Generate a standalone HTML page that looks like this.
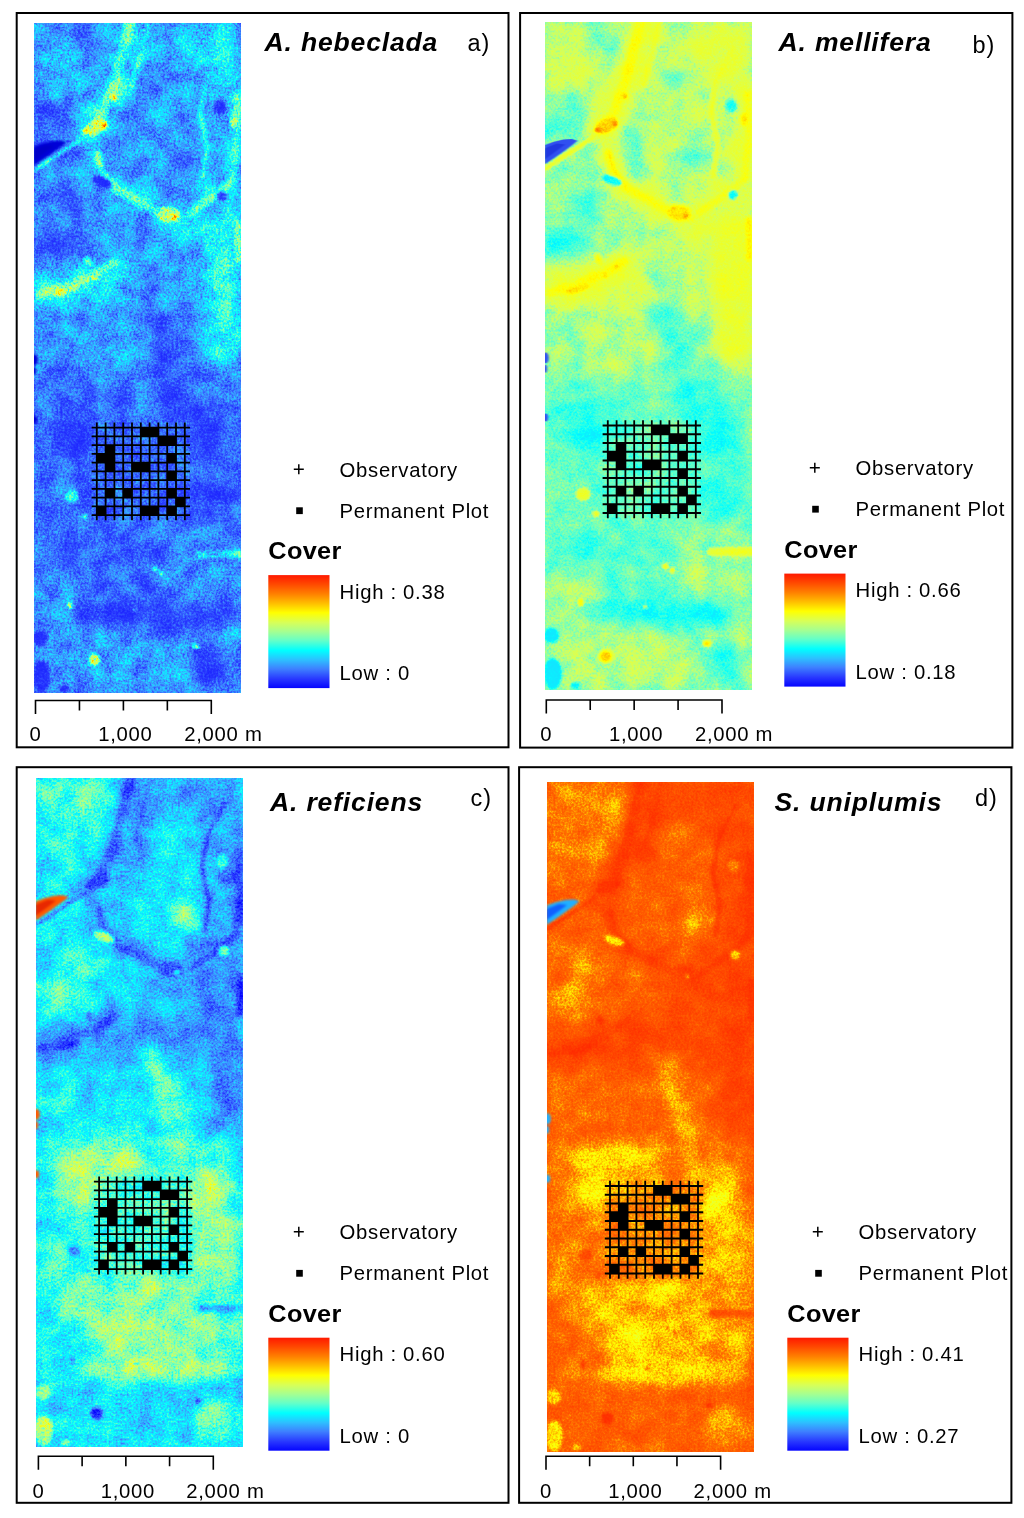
<!DOCTYPE html>
<html lang="en"><head><meta charset="utf-8"><title>Cover maps</title>
<style>
html,body{margin:0;padding:0;background:#fff}
svg{display:block}
.t{font-family:'Liberation Sans', sans-serif;font-size:20.3px;fill:#000;letter-spacing:0.7px}
.cv{font-family:'Liberation Sans', sans-serif;font-size:23px;font-weight:bold;fill:#000;letter-spacing:0.3px}
.ti{font-family:'Liberation Sans', sans-serif;font-size:26.5px;font-weight:bold;font-style:italic;fill:#000;letter-spacing:0.85px}
.tg{font-family:'Liberation Sans', sans-serif;font-size:23.5px;fill:#000;letter-spacing:1px}
</style></head><body>
<svg width="1024" height="1518" viewBox="0 0 1024 1518">
<defs>
<linearGradient id="ramp" x1="0" y1="0" x2="0" y2="1"><stop offset="0.000" stop-color="rgb(255,25,0)"/><stop offset="0.080" stop-color="rgb(255,72,0)"/><stop offset="0.170" stop-color="rgb(255,130,0)"/><stop offset="0.250" stop-color="rgb(255,190,0)"/><stop offset="0.333" stop-color="rgb(255,255,0)"/><stop offset="0.420" stop-color="rgb(215,255,88)"/><stop offset="0.500" stop-color="rgb(165,255,145)"/><stop offset="0.580" stop-color="rgb(100,255,200)"/><stop offset="0.667" stop-color="rgb(0,255,255)"/><stop offset="0.750" stop-color="rgb(45,192,255)"/><stop offset="0.830" stop-color="rgb(62,128,255)"/><stop offset="0.920" stop-color="rgb(40,55,255)"/><stop offset="1.000" stop-color="rgb(5,5,255)"/></linearGradient>
<filter id="blLo" x="-0.2" y="-0.1" width="1.4" height="1.2" color-interpolation-filters="sRGB"><feGaussianBlur stdDeviation="8"/></filter>
<filter id="blHi" x="-0.2" y="-0.1" width="1.4" height="1.2" color-interpolation-filters="sRGB"><feGaussianBlur stdDeviation="1.6"/></filter>
<filter id="blOv" x="-0.3" y="-0.3" width="1.6" height="1.6" color-interpolation-filters="sRGB"><feGaussianBlur stdDeviation="0.8"/></filter>
<g id="fAB"><rect x="-20" y="-20" width="246" height="710" fill="#292929"/><g filter="url(#blLo)"><rect x="-20" y="-20" width="246" height="710" fill="#292929"/><rect x="-0.4" y="-0.5" width="84.4" height="91.4" fill="#404040"/><ellipse cx="72.2" cy="32.3" rx="12.9" ry="21.1" fill="#1c1c1c"/><ellipse cx="51.1" cy="13.6" rx="11.7" ry="10.5" fill="#212121"/><ellipse cx="18.3" cy="12.4" rx="16.4" ry="11.7" fill="#333333"/><ellipse cx="62.8" cy="69.8" rx="11.7" ry="16.4" fill="#333333"/><rect x="-0.4" y="74.5" width="46.9" height="42.2" fill="#242424"/><rect x="98.0" y="-0.5" width="51.6" height="44.5" fill="#3b3b3b"/><rect x="149.5" y="-0.5" width="57.4" height="68.0" fill="#4c4c4c"/><rect x="98.0" y="39.4" width="68.0" height="133.6" fill="#383838"/><ellipse cx="147.2" cy="140.1" rx="14.1" ry="12.9" fill="#1c1c1c"/><ellipse cx="127.3" cy="58.1" rx="12.9" ry="12.9" fill="#262626"/><rect x="170.6" y="62.8" width="27.0" height="98.4" fill="#3b3b3b"/><rect x="-0.4" y="137.8" width="64.4" height="91.4" fill="#303030"/><ellipse cx="40.6" cy="184.7" rx="12.9" ry="11.7" fill="#121212"/><ellipse cx="20.7" cy="218.7" rx="15.2" ry="14.1" fill="#111111"/><rect x="64.0" y="168.3" width="62.1" height="60.9" fill="#333333"/><rect x="126.1" y="198.7" width="80.9" height="30.5" fill="#474747"/><rect x="149.5" y="156.5" width="57.4" height="44.5" fill="#474747"/><path d="M100.3 -2.8L92.1 27.7L81.6 62.8L67.5 93.3L55.8 108.5" fill="none" stroke="#595959" stroke-width="25.8" stroke-linecap="round" stroke-linejoin="round"/><path d="M62.8 130.8L68.7 151.9L85.1 169.4L107.4 181.2L128.5 191.7L147.2 196.4" fill="none" stroke="#545454" stroke-width="17.6" stroke-linecap="round" stroke-linejoin="round"/><path d="M202.3 69.8L203.5 156.5" fill="none" stroke="#5e5e5e" stroke-width="12.9" stroke-linecap="round" stroke-linejoin="round"/><path d="M202.3 191.7L203.5 229.2" fill="none" stroke="#757575" stroke-width="10.5" stroke-linecap="round" stroke-linejoin="round"/><rect x="-0.4" y="217.5" width="46.9" height="29.3" fill="#161616"/><rect x="-0.4" y="238.6" width="105.5" height="49.2" fill="#474747"/><rect x="102.7" y="217.5" width="68.0" height="70.3" fill="#383838"/><ellipse cx="116.7" cy="255.0" rx="10.5" ry="10.5" fill="#1f1f1f"/><path d="M191.7 306.6L189.4 386.2" fill="none" stroke="#383838" stroke-width="35.2" stroke-linecap="round" stroke-linejoin="round"/><path d="M190.6 208.1L190.6 315.9" fill="none" stroke="#545454" stroke-width="41.0" stroke-linecap="round" stroke-linejoin="round"/><ellipse cx="184.7" cy="260.9" rx="12.9" ry="12.9" fill="#6b6b6b"/><ellipse cx="187.5" cy="330.0" rx="5.9" ry="11.7" fill="#6b6b6b"/><rect x="-0.4" y="287.8" width="45.7" height="72.7" fill="#2f2f2f"/><rect x="44.1" y="294.8" width="65.6" height="68.0" fill="#363636"/><path d="M112.1 285.5L126.1 311.2L135.5 348.7L139.0 383.9" fill="none" stroke="#1a1a1a" stroke-width="16.4" stroke-linecap="round" stroke-linejoin="round"/><rect x="-0.4" y="358.1" width="207.4" height="96.1" fill="#212121"/><rect x="62.8" y="358.1" width="63.3" height="44.5" fill="#2b2b2b"/><ellipse cx="39.4" cy="412.0" rx="24.6" ry="22.3" fill="#131313"/><ellipse cx="62.8" cy="381.5" rx="44.5" ry="17.6" fill="#212121"/><ellipse cx="176.5" cy="412.0" rx="21.1" ry="18.7" fill="#121212"/><ellipse cx="141.3" cy="381.5" rx="14.1" ry="19.9" fill="#161616"/><rect x="117.9" y="358.1" width="17.6" height="44.5" fill="#242424"/><rect x="192.9" y="358.1" width="14.1" height="96.1" fill="#2b2b2b"/><rect x="-0.4" y="358.1" width="21.1" height="96.1" fill="#262626"/><rect x="58.2" y="400.3" width="96.1" height="53.9" fill="#242424"/><path d="M4.2 271.9L32.4 262.5L62.8 250.8L80.4 239.1" fill="none" stroke="#5e5e5e" stroke-width="18.7" stroke-linecap="round" stroke-linejoin="round"/><rect x="-0.4" y="437.5" width="57.4" height="63.3" fill="#262626"/><ellipse cx="16.0" cy="478.5" rx="12.9" ry="18.7" fill="#262626"/><rect x="58.2" y="437.5" width="96.1" height="58.6" fill="#242424"/><rect x="154.2" y="437.5" width="52.7" height="72.7" fill="#212121"/><ellipse cx="170.6" cy="478.5" rx="15.2" ry="18.7" fill="#171717"/><rect x="-0.4" y="497.3" width="207.4" height="21.1" fill="#262626"/><ellipse cx="40.6" cy="531.2" rx="16.4" ry="17.6" fill="#131313"/><ellipse cx="107.4" cy="545.3" rx="70.3" ry="39.8" fill="#212121"/><rect x="126.1" y="507.8" width="80.9" height="21.1" fill="#2e2e2e"/><rect x="126.1" y="535.9" width="80.9" height="43.4" fill="#333333"/><rect x="-0.4" y="547.6" width="52.7" height="59.8" fill="#303030"/><ellipse cx="123.8" cy="593.3" rx="77.3" ry="11.2" fill="#121212"/><ellipse cx="149.5" cy="593.3" rx="28.1" ry="8.9" fill="#0b0b0b"/><rect x="-0.4" y="606.2" width="207.4" height="64.4" fill="#333333"/><ellipse cx="86.3" cy="643.7" rx="65.6" ry="25.8" fill="#373737"/><path d="M130.8 612.1L207.0 612.1" fill="none" stroke="#2b2b2b" stroke-width="21.1" stroke-linecap="round" stroke-linejoin="round"/><ellipse cx="177.7" cy="643.7" rx="19.9" ry="19.9" fill="#161616"/><ellipse cx="199.9" cy="613.3" rx="7.0" ry="11.7" fill="#4c4c4c"/><ellipse cx="79.2" cy="552.3" rx="18.7" ry="9.4" fill="#262626" transform="rotate(10 79.2 552.3)"/><ellipse cx="114.4" cy="506.6" rx="16.4" ry="9.4" fill="#2b2b2b"/></g><g filter="url(#blHi)"><path d="M95.6 -1.6L88.6 27.7L79.2 62.8L68.0 92.1L57.0 107.8" fill="none" stroke="#6e6e6e" stroke-width="9.4" stroke-linecap="round" stroke-linejoin="round"/><path d="M113.2 1.9L107.4 30.0L98.0 62.8" fill="none" stroke="#5c5c5c" stroke-width="5.2" stroke-linecap="round" stroke-linejoin="round"/><ellipse cx="61.7" cy="103.8" rx="12.2" ry="7.0" fill="#949494" transform="rotate(-25 61.7 103.8)"/><ellipse cx="52.3" cy="108.5" rx="2.8" ry="2.1" fill="#ebebeb"/><ellipse cx="70.3" cy="102.6" rx="1.9" ry="3.0" fill="#e6e6e6"/><ellipse cx="80.4" cy="74.5" rx="1.6" ry="2.8" fill="#cccccc"/><path d="M48.8 115.5L25.3 130.8L0.0 147.2" fill="none" stroke="#6b6b6b" stroke-width="2.8" stroke-linecap="round" stroke-linejoin="round"/><path d="M62.8 131.9L68.0 151.9L84.4 168.7L107.4 180.5L127.3 191.7L146.0 196.9" fill="none" stroke="#696969" stroke-width="8.4" stroke-linecap="round" stroke-linejoin="round"/><path d="M64.0 129.6L67.5 147.2L79.2 161.2" fill="none" stroke="#878787" stroke-width="3.7" stroke-linecap="round" stroke-linejoin="round"/><ellipse cx="67.5" cy="158.9" rx="11.2" ry="4.7" fill="#0f0f0f" transform="rotate(20 67.5 158.9)"/><ellipse cx="134.3" cy="191.7" rx="11.7" ry="8.0" fill="#878787"/><ellipse cx="140.6" cy="194.5" rx="2.1" ry="2.6" fill="#d9d9d9"/><ellipse cx="128.5" cy="185.8" rx="2.1" ry="1.6" fill="#bfbfbf"/><path d="M188.2 25.3L171.1 58.1L166.0 90.9L173.0 123.7L168.3 154.2" fill="none" stroke="#575757" stroke-width="4.2" stroke-linecap="round" stroke-linejoin="round"/><path d="M202.3 72.2L203.9 114.4L199.9 156.5L184.7 170.6L154.2 191.7" fill="none" stroke="#666666" stroke-width="7.0" stroke-linecap="round" stroke-linejoin="round"/><ellipse cx="198.8" cy="98.0" rx="3.3" ry="6.6" fill="#8c8c8c"/><ellipse cx="185.9" cy="83.9" rx="6.1" ry="7.0" fill="#1a1a1a"/><ellipse cx="187.5" cy="173.0" rx="5.2" ry="5.2" fill="#0f0f0f"/><path d="M203.5 198.7L204.6 229.2" fill="none" stroke="#808080" stroke-width="6.6" stroke-linecap="round" stroke-linejoin="round"/><path d="M204.6 217.5L203.5 236.2" fill="none" stroke="#808080" stroke-width="6.6" stroke-linecap="round" stroke-linejoin="round"/><path d="M5.4 271.9L32.4 262.5L62.8 250.8L79.2 239.8" fill="none" stroke="#707070" stroke-width="8.4" stroke-linecap="round" stroke-linejoin="round"/><ellipse cx="60.5" cy="255.0" rx="2.1" ry="2.1" fill="#adadad"/><ellipse cx="71.0" cy="245.6" rx="1.6" ry="1.6" fill="#a8a8a8"/><ellipse cx="32.4" cy="267.9" rx="12.9" ry="3.7" fill="#8c8c8c" transform="rotate(-15 32.4 267.9)"/><ellipse cx="53.5" cy="238.6" rx="2.8" ry="5.2" fill="#7a7a7a" transform="rotate(-20 53.5 238.6)"/><ellipse cx="38.2" cy="473.8" rx="6.6" ry="6.1" fill="#5c5c5c"/><ellipse cx="51.1" cy="493.7" rx="1.9" ry="1.9" fill="#8c8c8c"/><path d="M166.0 531.7L207.0 531.7" fill="none" stroke="#595959" stroke-width="7.0" stroke-linecap="round" stroke-linejoin="round"/><ellipse cx="35.9" cy="582.8" rx="1.6" ry="3.7" fill="#a8a8a8"/><ellipse cx="60.5" cy="636.7" rx="6.1" ry="6.1" fill="#999999"/><ellipse cx="161.7" cy="623.8" rx="3.3" ry="1.9" fill="#b2b2b2"/><ellipse cx="120.3" cy="546.5" rx="1.6" ry="1.6" fill="#9e9e9e"/><ellipse cx="127.3" cy="550.5" rx="1.6" ry="1.6" fill="#9e9e9e"/><ellipse cx="100.3" cy="586.8" rx="1.6" ry="1.6" fill="#737373"/><ellipse cx="6.6" cy="615.6" rx="7.5" ry="7.5" fill="#080808"/><ellipse cx="7.8" cy="654.3" rx="8.4" ry="15.5" fill="#080808"/><ellipse cx="30.0" cy="666.0" rx="4.7" ry="3.3" fill="#0a0a0a"/></g></g>
<g id="fCD"><rect x="-20" y="-20" width="246" height="710" fill="#4c4c4c"/><g filter="url(#blLo)"><rect x="-20" y="-20" width="246" height="710" fill="#4c4c4c"/><rect x="-0.4" y="-0.5" width="84.4" height="91.4" fill="#5e5e5e"/><ellipse cx="72.2" cy="32.3" rx="12.9" ry="21.1" fill="#6e6e6e"/><ellipse cx="51.1" cy="13.6" rx="11.7" ry="10.5" fill="#6e6e6e"/><ellipse cx="18.3" cy="12.4" rx="16.4" ry="11.7" fill="#6e6e6e"/><ellipse cx="62.8" cy="69.8" rx="11.7" ry="16.4" fill="#6b6b6b"/><rect x="-0.4" y="74.5" width="46.9" height="42.2" fill="#545454"/><rect x="98.0" y="-0.5" width="51.6" height="44.5" fill="#383838"/><rect x="149.5" y="-0.5" width="57.4" height="68.0" fill="#363636"/><rect x="98.0" y="39.4" width="68.0" height="133.6" fill="#4c4c4c"/><ellipse cx="147.2" cy="140.1" rx="14.1" ry="12.9" fill="#808080"/><ellipse cx="127.3" cy="58.1" rx="12.9" ry="12.9" fill="#616161"/><rect x="170.6" y="62.8" width="27.0" height="98.4" fill="#383838"/><rect x="-0.4" y="137.8" width="64.4" height="91.4" fill="#525252"/><ellipse cx="40.6" cy="184.7" rx="12.9" ry="11.7" fill="#787878"/><ellipse cx="20.7" cy="218.7" rx="15.2" ry="14.1" fill="#7d7d7d"/><rect x="64.0" y="168.3" width="62.1" height="60.9" fill="#4c4c4c"/><rect x="126.1" y="198.7" width="80.9" height="30.5" fill="#333333"/><rect x="149.5" y="156.5" width="57.4" height="44.5" fill="#333333"/><path d="M100.3 -2.8L92.1 27.7L81.6 62.8L67.5 93.3L55.8 108.5" fill="none" stroke="#303030" stroke-width="25.8" stroke-linecap="round" stroke-linejoin="round"/><path d="M62.8 130.8L68.7 151.9L85.1 169.4L107.4 181.2L128.5 191.7L147.2 196.4" fill="none" stroke="#333333" stroke-width="17.6" stroke-linecap="round" stroke-linejoin="round"/><path d="M202.3 69.8L203.5 156.5" fill="none" stroke="#1f1f1f" stroke-width="12.9" stroke-linecap="round" stroke-linejoin="round"/><path d="M202.3 191.7L203.5 229.2" fill="none" stroke="#1a1a1a" stroke-width="10.5" stroke-linecap="round" stroke-linejoin="round"/><path d="M113.2 -0.5L107.4 39.4L96.8 81.6" fill="none" stroke="#303030" stroke-width="23.4" stroke-linecap="round" stroke-linejoin="round"/><rect x="-0.4" y="217.5" width="46.9" height="29.3" fill="#6e6e6e"/><rect x="-0.4" y="238.6" width="105.5" height="49.2" fill="#383838"/><rect x="102.7" y="217.5" width="68.0" height="70.3" fill="#3b3b3b"/><ellipse cx="116.7" cy="255.0" rx="10.5" ry="10.5" fill="#545454"/><path d="M191.7 306.6L189.4 386.2" fill="none" stroke="#383838" stroke-width="35.2" stroke-linecap="round" stroke-linejoin="round"/><path d="M190.6 208.1L190.6 315.9" fill="none" stroke="#2e2e2e" stroke-width="41.0" stroke-linecap="round" stroke-linejoin="round"/><ellipse cx="184.7" cy="260.9" rx="12.9" ry="12.9" fill="#1f1f1f"/><ellipse cx="187.5" cy="330.0" rx="5.9" ry="11.7" fill="#212121"/><rect x="-0.4" y="287.8" width="45.7" height="72.7" fill="#545454"/><rect x="44.1" y="294.8" width="65.6" height="68.0" fill="#4f4f4f"/><path d="M116.7 280.8L128.5 311.2L137.8 348.7L142.5 386.2" fill="none" stroke="#757575" stroke-width="22.3" stroke-linecap="round" stroke-linejoin="round"/><rect x="-0.4" y="358.1" width="207.4" height="96.1" fill="#5c5c5c"/><rect x="62.8" y="358.1" width="63.3" height="44.5" fill="#6b6b6b"/><ellipse cx="39.4" cy="412.0" rx="24.6" ry="22.3" fill="#808080"/><ellipse cx="62.8" cy="381.5" rx="44.5" ry="17.6" fill="#858585"/><ellipse cx="176.5" cy="421.4" rx="23.4" ry="28.1" fill="#8f8f8f"/><ellipse cx="141.3" cy="381.5" rx="14.1" ry="19.9" fill="#787878"/><rect x="117.9" y="358.1" width="17.6" height="44.5" fill="#4c4c4c"/><rect x="192.9" y="358.1" width="14.1" height="96.1" fill="#4c4c4c"/><rect x="-0.4" y="358.1" width="21.1" height="96.1" fill="#545454"/><rect x="58.2" y="400.3" width="96.1" height="53.9" fill="#666666"/><path d="M4.2 271.9L32.4 262.5L62.8 250.8L80.4 239.1" fill="none" stroke="#2e2e2e" stroke-width="18.7" stroke-linecap="round" stroke-linejoin="round"/><path d="M83.9 252.7L205.8 266.7" fill="none" stroke="#303030" stroke-width="21.1" stroke-linecap="round" stroke-linejoin="round"/><rect x="-0.4" y="437.5" width="57.4" height="63.3" fill="#595959"/><ellipse cx="16.0" cy="478.5" rx="12.9" ry="18.7" fill="#6b6b6b"/><rect x="58.2" y="437.5" width="96.1" height="58.6" fill="#616161"/><rect x="154.2" y="437.5" width="52.7" height="72.7" fill="#737373"/><ellipse cx="170.6" cy="478.5" rx="15.2" ry="18.7" fill="#808080"/><rect x="-0.4" y="497.3" width="207.4" height="21.1" fill="#6b6b6b"/><ellipse cx="40.6" cy="531.2" rx="16.4" ry="17.6" fill="#787878"/><ellipse cx="107.4" cy="545.3" rx="70.3" ry="39.8" fill="#787878"/><rect x="126.1" y="507.8" width="80.9" height="21.1" fill="#6b6b6b"/><rect x="126.1" y="535.9" width="80.9" height="43.4" fill="#757575"/><rect x="-0.4" y="547.6" width="52.7" height="59.8" fill="#545454"/><ellipse cx="123.8" cy="593.3" rx="77.3" ry="11.2" fill="#8a8a8a"/><ellipse cx="149.5" cy="593.3" rx="28.1" ry="8.9" fill="#949494"/><rect x="-0.4" y="606.2" width="207.4" height="64.4" fill="#4a4a4a"/><ellipse cx="86.3" cy="643.7" rx="65.6" ry="25.8" fill="#4c4c4c"/><path d="M130.8 612.1L207.0 612.1" fill="none" stroke="#404040" stroke-width="21.1" stroke-linecap="round" stroke-linejoin="round"/><ellipse cx="177.7" cy="643.7" rx="19.9" ry="19.9" fill="#787878"/><ellipse cx="199.9" cy="613.3" rx="7.0" ry="11.7" fill="#404040"/><ellipse cx="79.2" cy="552.3" rx="18.7" ry="9.4" fill="#919191" transform="rotate(10 79.2 552.3)"/><ellipse cx="114.4" cy="506.6" rx="16.4" ry="9.4" fill="#8c8c8c"/></g><g filter="url(#blHi)"><path d="M95.6 -1.6L88.6 27.7L79.2 62.8L68.0 92.1L57.0 107.8" fill="none" stroke="#242424" stroke-width="9.4" stroke-linecap="round" stroke-linejoin="round"/><path d="M113.2 1.9L107.4 30.0L98.0 62.8" fill="none" stroke="#262626" stroke-width="5.2" stroke-linecap="round" stroke-linejoin="round"/><ellipse cx="61.7" cy="103.8" rx="12.2" ry="7.0" fill="#1c1c1c" transform="rotate(-25 61.7 103.8)"/><ellipse cx="52.3" cy="108.5" rx="2.8" ry="2.1" fill="#0f0f0f"/><ellipse cx="70.3" cy="102.6" rx="1.9" ry="3.0" fill="#0f0f0f"/><ellipse cx="80.4" cy="74.5" rx="1.6" ry="2.8" fill="#121212"/><path d="M48.8 115.5L25.3 130.8L0.0 147.2" fill="none" stroke="#1c1c1c" stroke-width="2.8" stroke-linecap="round" stroke-linejoin="round"/><path d="M62.8 131.9L68.0 151.9L84.4 168.7L107.4 180.5L127.3 191.7L146.0 196.9" fill="none" stroke="#292929" stroke-width="8.4" stroke-linecap="round" stroke-linejoin="round"/><path d="M64.0 129.6L67.5 147.2L79.2 161.2" fill="none" stroke="#1f1f1f" stroke-width="3.7" stroke-linecap="round" stroke-linejoin="round"/><ellipse cx="67.5" cy="158.9" rx="11.2" ry="4.7" fill="#808080" transform="rotate(20 67.5 158.9)"/><ellipse cx="134.3" cy="191.7" rx="11.7" ry="8.0" fill="#242424"/><ellipse cx="140.6" cy="194.5" rx="2.1" ry="2.6" fill="#808080"/><ellipse cx="128.5" cy="185.8" rx="2.1" ry="1.6" fill="#1a1a1a"/><path d="M188.2 25.3L171.1 58.1L166.0 90.9L173.0 123.7L168.3 154.2" fill="none" stroke="#1f1f1f" stroke-width="4.2" stroke-linecap="round" stroke-linejoin="round"/><path d="M202.3 72.2L203.9 114.4L199.9 156.5L184.7 170.6L154.2 191.7" fill="none" stroke="#1c1c1c" stroke-width="7.0" stroke-linecap="round" stroke-linejoin="round"/><ellipse cx="198.8" cy="98.0" rx="3.3" ry="6.6" fill="#141414"/><ellipse cx="185.9" cy="83.9" rx="6.1" ry="7.0" fill="#616161"/><ellipse cx="187.5" cy="173.0" rx="5.2" ry="5.2" fill="#808080"/><path d="M203.5 198.7L204.6 229.2" fill="none" stroke="#141414" stroke-width="6.6" stroke-linecap="round" stroke-linejoin="round"/><path d="M204.6 217.5L203.5 236.2" fill="none" stroke="#141414" stroke-width="6.6" stroke-linecap="round" stroke-linejoin="round"/><path d="M5.4 271.9L32.4 262.5L62.8 250.8L79.2 239.8" fill="none" stroke="#242424" stroke-width="8.4" stroke-linecap="round" stroke-linejoin="round"/><ellipse cx="60.5" cy="255.0" rx="2.1" ry="2.1" fill="#0f0f0f"/><ellipse cx="71.0" cy="245.6" rx="1.6" ry="1.6" fill="#0f0f0f"/><ellipse cx="32.4" cy="267.9" rx="12.9" ry="3.7" fill="#141414" transform="rotate(-15 32.4 267.9)"/><ellipse cx="53.5" cy="238.6" rx="2.8" ry="5.2" fill="#1f1f1f" transform="rotate(-20 53.5 238.6)"/><ellipse cx="38.2" cy="473.8" rx="6.6" ry="6.1" fill="#333333"/><ellipse cx="51.1" cy="493.7" rx="1.9" ry="1.9" fill="#262626"/><path d="M166.0 531.7L207.0 531.7" fill="none" stroke="#383838" stroke-width="7.0" stroke-linecap="round" stroke-linejoin="round"/><ellipse cx="35.9" cy="582.8" rx="1.6" ry="3.7" fill="#141414"/><ellipse cx="60.5" cy="636.7" rx="6.1" ry="6.1" fill="#0d0d0d"/><ellipse cx="161.7" cy="623.8" rx="3.3" ry="1.9" fill="#0a0a0a"/><ellipse cx="120.3" cy="546.5" rx="1.6" ry="1.6" fill="#333333"/><ellipse cx="127.3" cy="550.5" rx="1.6" ry="1.6" fill="#333333"/><ellipse cx="100.3" cy="586.8" rx="1.6" ry="1.6" fill="#333333"/><ellipse cx="6.6" cy="615.6" rx="7.5" ry="7.5" fill="#808080"/><ellipse cx="7.8" cy="654.3" rx="8.4" ry="15.5" fill="#858585"/><ellipse cx="30.0" cy="666.0" rx="4.7" ry="3.3" fill="#808080"/></g></g>
<filter id="luta" x="0" y="0" width="205.8" height="669.5" filterUnits="userSpaceOnUse" color-interpolation-filters="sRGB"><feTurbulence type="fractalNoise" baseFrequency="0.45" numOctaves="2" seed="3" result="n1"/><feColorMatrix in="n1" type="matrix" values="1 0 0 0 0 1 0 0 0 0 1 0 0 0 0 0 0 0 0 1" result="g1"/><feTurbulence type="fractalNoise" baseFrequency="0.05" numOctaves="3" seed="4" result="n2"/><feColorMatrix in="n2" type="matrix" values="1 0 0 0 0 1 0 0 0 0 1 0 0 0 0 0 0 0 0 1" result="g2"/><feComposite in="g1" in2="g2" operator="arithmetic" k1="0" k2="0.340" k3="0.300" k4="0.360" result="ng"/><feComposite in="SourceGraphic" in2="ng" operator="arithmetic" k1="2.200" k2="-0.496" k3="0.450" k4="-0.306" result="vn"/><feComponentTransfer in="vn"><feFuncR type="table" tableValues="0.114 0.128 0.143 0.163 0.181 0.200 0.224 0.239 0.218 0.197 0.176 0.124 0.071 0.018 0.075 0.189 0.302 0.408 0.488 0.567 0.647 0.708 0.770 0.831 0.879 0.925 0.970 1.000 1.000 1.000 1.000 1.000 1.000 1.000 1.000 1.000 1.000 1.000 1.000 1.000 1.000"/><feFuncG type="table" tableValues="0.154 0.175 0.195 0.236 0.295 0.359 0.438 0.518 0.596 0.675 0.753 0.827 0.901 0.975 1.000 1.000 1.000 1.000 1.000 1.000 1.000 1.000 1.000 1.000 1.000 1.000 1.000 0.975 0.898 0.822 0.745 0.672 0.598 0.525 0.459 0.396 0.333 0.271 0.213 0.156 0.098"/><feFuncB type="table" tableValues="1.000 1.000 1.000 1.000 1.000 1.000 1.000 1.000 1.000 1.000 1.000 1.000 1.000 1.000 0.959 0.896 0.834 0.771 0.703 0.636 0.569 0.499 0.429 0.359 0.265 0.166 0.066 0.000 0.000 0.000 0.000 0.000 0.000 0.000 0.000 0.000 0.000 0.000 0.000 0.000 0.000"/></feComponentTransfer></filter>
<clipPath id="cpa"><rect x="0" y="0" width="205.8" height="669.5"/></clipPath>
<filter id="lutb" x="0" y="0" width="205.8" height="669.5" filterUnits="userSpaceOnUse" color-interpolation-filters="sRGB"><feTurbulence type="fractalNoise" baseFrequency="0.45" numOctaves="2" seed="7" result="n1"/><feColorMatrix in="n1" type="matrix" values="1 0 0 0 0 1 0 0 0 0 1 0 0 0 0 0 0 0 0 1" result="g1"/><feTurbulence type="fractalNoise" baseFrequency="0.05" numOctaves="3" seed="8" result="n2"/><feColorMatrix in="n2" type="matrix" values="1 0 0 0 0 1 0 0 0 0 1 0 0 0 0 0 0 0 0 1" result="g2"/><feComposite in="g1" in2="g2" operator="arithmetic" k1="0" k2="0.300" k3="0.300" k4="0.400" result="ng"/><feComposite in="SourceGraphic" in2="ng" operator="arithmetic" k1="0.800" k2="0.440" k3="0.300" k4="-0.210" result="vn"/><feComponentTransfer in="vn"><feFuncR type="table" tableValues="0.071 0.060 0.049 0.015 0.166 0.298 0.429 0.551 0.680 0.784 0.852 0.875 0.897 0.913 0.929 0.945 0.961 0.977 0.994 1.000 1.000 1.000 1.000 1.000 1.000 1.000 1.000 1.000 1.000 1.000 1.000 1.000 1.000 1.000 1.000 1.000 1.000 1.000 1.000 1.000 1.000"/><feFuncG type="table" tableValues="0.901 0.916 0.931 1.000 1.000 1.000 1.000 1.000 1.000 1.000 1.000 1.000 1.000 1.000 1.000 1.000 1.000 1.000 1.000 0.982 0.954 0.926 0.898 0.857 0.816 0.776 0.735 0.696 0.657 0.627 0.598 0.569 0.539 0.510 0.485 0.459 0.434 0.409 0.383 0.358 0.333"/><feFuncB type="table" tableValues="1.000 1.000 1.000 0.992 0.909 0.836 0.753 0.650 0.531 0.413 0.325 0.275 0.226 0.191 0.156 0.121 0.086 0.050 0.013 0.000 0.000 0.000 0.000 0.000 0.000 0.000 0.000 0.000 0.000 0.000 0.000 0.000 0.000 0.000 0.000 0.000 0.000 0.000 0.000 0.000 0.000"/></feComponentTransfer></filter>
<clipPath id="cpb"><rect x="0" y="0" width="205.8" height="669.5"/></clipPath>
<filter id="lutc" x="0" y="0" width="205.8" height="669.5" filterUnits="userSpaceOnUse" color-interpolation-filters="sRGB"><feTurbulence type="fractalNoise" baseFrequency="0.45" numOctaves="2" seed="11" result="n1"/><feColorMatrix in="n1" type="matrix" values="1 0 0 0 0 1 0 0 0 0 1 0 0 0 0 0 0 0 0 1" result="g1"/><feTurbulence type="fractalNoise" baseFrequency="0.05" numOctaves="3" seed="12" result="n2"/><feColorMatrix in="n2" type="matrix" values="1 0 0 0 0 1 0 0 0 0 1 0 0 0 0 0 0 0 0 1" result="g2"/><feComposite in="g1" in2="g2" operator="arithmetic" k1="0" k2="0.360" k3="0.300" k4="0.340" result="ng"/><feComposite in="SourceGraphic" in2="ng" operator="arithmetic" k1="0.700" k2="0.531" k3="0.600" k4="-0.402" result="vn"/><feComponentTransfer in="vn"><feFuncR type="table" tableValues="0.020 0.062 0.105 0.148 0.176 0.200 0.224 0.239 0.218 0.197 0.176 0.124 0.071 0.018 0.075 0.189 0.302 0.408 0.488 0.567 0.647 0.708 0.770 0.831 0.879 0.925 0.970 1.000 1.000 1.000 1.000 1.000 1.000 1.000 1.000 1.000 1.000 1.000 1.000 1.000 1.000"/><feFuncG type="table" tableValues="0.020 0.081 0.142 0.203 0.279 0.359 0.438 0.518 0.596 0.675 0.753 0.827 0.901 0.975 1.000 1.000 1.000 1.000 1.000 1.000 1.000 1.000 1.000 1.000 1.000 1.000 1.000 0.975 0.898 0.822 0.745 0.672 0.598 0.525 0.459 0.396 0.333 0.271 0.213 0.156 0.098"/><feFuncB type="table" tableValues="1.000 1.000 1.000 1.000 1.000 1.000 1.000 1.000 1.000 1.000 1.000 1.000 1.000 1.000 0.959 0.896 0.834 0.771 0.703 0.636 0.569 0.499 0.429 0.359 0.265 0.166 0.066 0.000 0.000 0.000 0.000 0.000 0.000 0.000 0.000 0.000 0.000 0.000 0.000 0.000 0.000"/></feComponentTransfer></filter>
<clipPath id="cpc"><rect x="0" y="0" width="205.8" height="669.5"/></clipPath>
<filter id="lutd" x="0" y="0" width="205.8" height="669.5" filterUnits="userSpaceOnUse" color-interpolation-filters="sRGB"><feTurbulence type="fractalNoise" baseFrequency="0.45" numOctaves="2" seed="19" result="n1"/><feColorMatrix in="n1" type="matrix" values="1 0 0 0 0 1 0 0 0 0 1 0 0 0 0 0 0 0 0 1" result="g1"/><feTurbulence type="fractalNoise" baseFrequency="0.05" numOctaves="3" seed="20" result="n2"/><feColorMatrix in="n2" type="matrix" values="1 0 0 0 0 1 0 0 0 0 1 0 0 0 0 0 0 0 0 1" result="g2"/><feComposite in="g1" in2="g2" operator="arithmetic" k1="0" k2="0.360" k3="0.300" k4="0.340" result="ng"/><feComposite in="SourceGraphic" in2="ng" operator="arithmetic" k1="0.500" k2="0.665" k3="0.600" k4="-0.402" result="vn"/><feComponentTransfer in="vn"><feFuncR type="table" tableValues="1.000 1.000 1.000 1.000 1.000 1.000 1.000 1.000 1.000 1.000 1.000 1.000 1.000 1.000 1.000 1.000 1.000 1.000 1.000 1.000 1.000 1.000 1.000 0.984 0.962 0.942 0.921 0.900 0.879 0.857 0.831 0.800 0.770 0.739 0.708 0.678 0.647 0.607 0.567 0.528 0.488"/><feFuncG type="table" tableValues="0.167 0.178 0.189 0.200 0.213 0.228 0.246 0.264 0.282 0.304 0.327 0.349 0.371 0.408 0.445 0.494 0.559 0.629 0.710 0.791 0.867 0.938 0.982 1.000 1.000 1.000 1.000 1.000 1.000 1.000 1.000 1.000 1.000 1.000 1.000 1.000 1.000 1.000 1.000 1.000 1.000"/><feFuncB type="table" tableValues="0.000 0.000 0.000 0.000 0.000 0.000 0.000 0.000 0.000 0.000 0.000 0.000 0.000 0.000 0.000 0.000 0.000 0.000 0.000 0.000 0.000 0.000 0.000 0.035 0.083 0.129 0.174 0.220 0.265 0.315 0.359 0.394 0.429 0.464 0.499 0.534 0.569 0.602 0.636 0.670 0.703"/></feComponentTransfer></filter>
<clipPath id="cpd"><rect x="0" y="0" width="205.8" height="669.5"/></clipPath>
</defs>
<rect width="1024" height="1518" fill="#fff"/>
<!-- panel a -->
<g transform="translate(34 23) scale(1.0010 0.9993)"><g clip-path="url(#cpa)"><g filter="url(#luta)"><use href="#fAB"/></g></g><g clip-path="url(#cpa)"><g filter="url(#blOv)"><polygon points="-0.5,123.7 8,120.5 18.3,118 27,117.5 32.4,119.2 28,123 20.7,128.4 10,136 -0.5,143" fill="#0000d8"/><polygon points="-0.5,127 12,122 20,123 8,132 -0.5,138" fill="#0000c8"/><ellipse cx="0.5" cy="337" rx="3.2" ry="5.5" fill="#0000d8"/><ellipse cx="0" cy="348" rx="2" ry="4" fill="#0000d8"/><ellipse cx="0.3" cy="397" rx="2.8" ry="4" fill="#0000d8"/></g></g></g>
<g fill="#000"><rect x="140.8" y="427.6" width="8.8" height="8.8"/><rect x="149.6" y="427.6" width="8.8" height="8.8"/><rect x="158.4" y="436.4" width="8.8" height="8.8"/><rect x="167.2" y="436.4" width="8.8" height="8.8"/><rect x="105.6" y="445.1" width="8.8" height="8.8"/><rect x="96.8" y="453.9" width="8.8" height="8.8"/><rect x="105.6" y="453.9" width="8.8" height="8.8"/><rect x="167.2" y="453.9" width="8.8" height="8.8"/><rect x="105.6" y="462.6" width="8.8" height="8.8"/><rect x="132.0" y="462.6" width="8.8" height="8.8"/><rect x="140.8" y="462.6" width="8.8" height="8.8"/><rect x="167.2" y="471.4" width="8.8" height="8.8"/><rect x="105.6" y="488.9" width="8.8" height="8.8"/><rect x="123.2" y="488.9" width="8.8" height="8.8"/><rect x="167.2" y="488.9" width="8.8" height="8.8"/><rect x="176.0" y="497.6" width="8.8" height="8.8"/><rect x="96.8" y="506.4" width="8.8" height="8.8"/><rect x="140.8" y="506.4" width="8.8" height="8.8"/><rect x="149.6" y="506.4" width="8.8" height="8.8"/><rect x="167.2" y="506.4" width="8.8" height="8.8"/><path d="M96.80 422.40V520.30M91.60 427.60H190.00M105.60 422.40V520.30M91.60 436.35H190.00M114.40 422.40V520.30M91.60 445.10H190.00M123.20 422.40V520.30M91.60 453.85H190.00M132.00 422.40V520.30M91.60 462.60H190.00M140.80 422.40V520.30M91.60 471.35H190.00M149.60 422.40V520.30M91.60 480.10H190.00M158.40 422.40V520.30M91.60 488.85H190.00M167.20 422.40V520.30M91.60 497.60H190.00M176.00 422.40V520.30M91.60 506.35H190.00M184.80 422.40V520.30M91.60 515.10H190.00" stroke="#000" stroke-width="1.8" fill="none"/></g>
<rect x="16.7" y="13.0" width="491.8" height="734.3" fill="none" stroke="#000" stroke-width="2"/>
<text x="264.5" y="50.5" class="ti">A. hebeclada</text><text x="467.5" y="50.5" class="tg">a)</text>
<g transform="translate(0 0)"><path d="M293.8 469.2H303.8M298.8 464.2V474.2" stroke="#000" stroke-width="1.5" fill="none"/><rect x="296.2" y="507.3" width="6.6" height="6.8" fill="#000"/><text x="339.6" y="476.8" class="t">Observatory</text><text x="339.6" y="517.5" class="t">Permanent Plot</text><text transform="translate(268.3 559.3) scale(1.1 1)" class="cv">Cover</text><rect x="268.3" y="575.1" width="61.2" height="113" fill="url(#ramp)"/><text x="339.6" y="598.7" class="t">High : 0.38</text><text x="339.6" y="680.0" class="t">Low : 0</text></g>
<path d="M35.5 714.0V700.5H211.3V714.0M79.45 700.5V710.5M123.40 700.5V710.5M167.35 700.5V710.5" stroke="#000" stroke-width="1.6" fill="none"/><text x="35.5" y="741.0" class="t" text-anchor="middle">0</text><text x="125.4" y="741.0" class="t" text-anchor="middle">1,000</text><text x="184.3" y="741.0" class="t">2,000 m</text>
<!-- panel b -->
<g transform="translate(545 22) scale(1.0010 0.9963)"><g clip-path="url(#cpb)"><g filter="url(#lutb)"><use href="#fAB"/></g></g><g clip-path="url(#cpb)"><g filter="url(#blOv)"><polygon points="-0.5,123.7 8,120.5 18.3,118 27,117.5 32.4,119.2 28,123 20.7,128.4 10,136 -0.5,143" fill="#3050f0"/><polygon points="-0.5,127 12,122 20,123 8,132 -0.5,138" fill="#2038e0"/><ellipse cx="0.5" cy="337" rx="3.2" ry="5.5" fill="#3050f0"/><ellipse cx="0" cy="348" rx="2" ry="4" fill="#3050f0"/><ellipse cx="0.3" cy="397" rx="2.8" ry="4" fill="#3050f0"/></g></g></g>
<g fill="#000"><rect x="651.8" y="425.5" width="8.8" height="8.8"/><rect x="660.6" y="425.5" width="8.8" height="8.8"/><rect x="669.4" y="434.2" width="8.8" height="8.8"/><rect x="678.2" y="434.2" width="8.8" height="8.8"/><rect x="616.6" y="443.0" width="8.8" height="8.8"/><rect x="607.8" y="451.8" width="8.8" height="8.8"/><rect x="616.6" y="451.8" width="8.8" height="8.8"/><rect x="678.2" y="451.8" width="8.8" height="8.8"/><rect x="616.6" y="460.5" width="8.8" height="8.8"/><rect x="643.0" y="460.5" width="8.8" height="8.8"/><rect x="651.8" y="460.5" width="8.8" height="8.8"/><rect x="678.2" y="469.2" width="8.8" height="8.8"/><rect x="616.6" y="486.8" width="8.8" height="8.8"/><rect x="634.2" y="486.8" width="8.8" height="8.8"/><rect x="678.2" y="486.8" width="8.8" height="8.8"/><rect x="687.0" y="495.5" width="8.8" height="8.8"/><rect x="607.8" y="504.2" width="8.8" height="8.8"/><rect x="651.8" y="504.2" width="8.8" height="8.8"/><rect x="660.6" y="504.2" width="8.8" height="8.8"/><rect x="678.2" y="504.2" width="8.8" height="8.8"/><path d="M607.80 420.30V518.20M602.60 425.50H701.00M616.60 420.30V518.20M602.60 434.25H701.00M625.40 420.30V518.20M602.60 443.00H701.00M634.20 420.30V518.20M602.60 451.75H701.00M643.00 420.30V518.20M602.60 460.50H701.00M651.80 420.30V518.20M602.60 469.25H701.00M660.60 420.30V518.20M602.60 478.00H701.00M669.40 420.30V518.20M602.60 486.75H701.00M678.20 420.30V518.20M602.60 495.50H701.00M687.00 420.30V518.20M602.60 504.25H701.00M695.80 420.30V518.20M602.60 513.00H701.00" stroke="#000" stroke-width="1.8" fill="none"/></g>
<rect x="520.1" y="13.0" width="492.29999999999995" height="734.6" fill="none" stroke="#000" stroke-width="2"/>
<text x="778.5" y="51.0" class="ti">A. mellifera</text><text x="972.5" y="53.0" class="tg">b)</text>
<g transform="translate(516 -1.5)"><path d="M293.8 469.2H303.8M298.8 464.2V474.2" stroke="#000" stroke-width="1.5" fill="none"/><rect x="296.2" y="507.3" width="6.6" height="6.8" fill="#000"/><text x="339.6" y="476.8" class="t">Observatory</text><text x="339.6" y="517.5" class="t">Permanent Plot</text><text transform="translate(268.3 559.3) scale(1.1 1)" class="cv">Cover</text><rect x="268.3" y="575.1" width="61.2" height="113" fill="url(#ramp)"/><text x="339.6" y="598.7" class="t">High : 0.66</text><text x="339.6" y="680.0" class="t">Low : 0.18</text></g>
<path d="M546.3 713.5V700.0H722.0V713.5M590.22 700.0V710.0M634.15 700.0V710.0M678.08 700.0V710.0" stroke="#000" stroke-width="1.6" fill="none"/><text x="546.3" y="741.0" class="t" text-anchor="middle">0</text><text x="636.1" y="741.0" class="t" text-anchor="middle">1,000</text><text x="695.0" y="741.0" class="t">2,000 m</text>
<!-- panel c -->
<g transform="translate(36 778) scale(1.0010 0.9978)"><g clip-path="url(#cpc)"><g filter="url(#lutc)"><use href="#fCD"/></g></g><g clip-path="url(#cpc)"><g filter="url(#blOv)"><polygon points="-0.5,123.7 8,120.5 18.3,118 27,117.5 32.4,119.2 28,123 20.7,128.4 10,136 -0.5,143" fill="#ff5a00"/><polygon points="-0.5,127 12,122 20,123 8,132 -0.5,138" fill="#e82800"/><ellipse cx="0.5" cy="337" rx="3.2" ry="5.5" fill="#ff5a00"/><ellipse cx="0" cy="348" rx="2" ry="4" fill="#ff5a00"/><ellipse cx="0.3" cy="397" rx="2.8" ry="4" fill="#ff5a00"/></g></g></g>
<g fill="#000"><rect x="143.1" y="1181.7" width="8.8" height="8.8"/><rect x="151.9" y="1181.7" width="8.8" height="8.8"/><rect x="160.7" y="1190.5" width="8.8" height="8.8"/><rect x="169.5" y="1190.5" width="8.8" height="8.8"/><rect x="107.9" y="1199.2" width="8.8" height="8.8"/><rect x="99.1" y="1208.0" width="8.8" height="8.8"/><rect x="107.9" y="1208.0" width="8.8" height="8.8"/><rect x="169.5" y="1208.0" width="8.8" height="8.8"/><rect x="107.9" y="1216.7" width="8.8" height="8.8"/><rect x="134.3" y="1216.7" width="8.8" height="8.8"/><rect x="143.1" y="1216.7" width="8.8" height="8.8"/><rect x="169.5" y="1225.5" width="8.8" height="8.8"/><rect x="107.9" y="1243.0" width="8.8" height="8.8"/><rect x="125.5" y="1243.0" width="8.8" height="8.8"/><rect x="169.5" y="1243.0" width="8.8" height="8.8"/><rect x="178.3" y="1251.7" width="8.8" height="8.8"/><rect x="99.1" y="1260.5" width="8.8" height="8.8"/><rect x="143.1" y="1260.5" width="8.8" height="8.8"/><rect x="151.9" y="1260.5" width="8.8" height="8.8"/><rect x="169.5" y="1260.5" width="8.8" height="8.8"/><path d="M99.10 1176.50V1274.40M93.90 1181.70H192.30M107.90 1176.50V1274.40M93.90 1190.45H192.30M116.70 1176.50V1274.40M93.90 1199.20H192.30M125.50 1176.50V1274.40M93.90 1207.95H192.30M134.30 1176.50V1274.40M93.90 1216.70H192.30M143.10 1176.50V1274.40M93.90 1225.45H192.30M151.90 1176.50V1274.40M93.90 1234.20H192.30M160.70 1176.50V1274.40M93.90 1242.95H192.30M169.50 1176.50V1274.40M93.90 1251.70H192.30M178.30 1176.50V1274.40M93.90 1260.45H192.30M187.10 1176.50V1274.40M93.90 1269.20H192.30" stroke="#000" stroke-width="1.8" fill="none"/></g>
<rect x="16.7" y="767.2" width="491.8" height="735.5999999999999" fill="none" stroke="#000" stroke-width="2"/>
<text x="270.0" y="810.5" class="ti">A. reficiens</text><text x="470.5" y="805.5" class="tg">c)</text>
<g transform="translate(0 762.6)"><path d="M293.8 469.2H303.8M298.8 464.2V474.2" stroke="#000" stroke-width="1.5" fill="none"/><rect x="296.2" y="507.3" width="6.6" height="6.8" fill="#000"/><text x="339.6" y="476.8" class="t">Observatory</text><text x="339.6" y="517.5" class="t">Permanent Plot</text><text transform="translate(268.3 559.3) scale(1.1 1)" class="cv">Cover</text><rect x="268.3" y="575.1" width="61.2" height="113" fill="url(#ramp)"/><text x="339.6" y="598.7" class="t">High : 0.60</text><text x="339.6" y="680.0" class="t">Low : 0</text></g>
<path d="M38.4 1469.8V1456.3H213.3V1469.8M82.12 1456.3V1466.3M125.85 1456.3V1466.3M169.58 1456.3V1466.3" stroke="#000" stroke-width="1.6" fill="none"/><text x="38.4" y="1497.5" class="t" text-anchor="middle">0</text><text x="127.8" y="1497.5" class="t" text-anchor="middle">1,000</text><text x="186.3" y="1497.5" class="t">2,000 m</text>
<!-- panel d -->
<g transform="translate(547 782) scale(1.0010 0.9993)"><g clip-path="url(#cpd)"><g filter="url(#lutd)"><use href="#fCD"/></g></g><g clip-path="url(#cpd)"><g filter="url(#blOv)"><polygon points="-0.5,123.7 8,120.5 18.3,118 27,117.5 32.4,119.2 28,123 20.7,128.4 10,136 -0.5,143" fill="#20b0ff"/><polygon points="-0.5,127 12,122 20,123 8,132 -0.5,138" fill="#1060ff"/><ellipse cx="0.5" cy="337" rx="3.2" ry="5.5" fill="#20b0ff"/><ellipse cx="0" cy="348" rx="2" ry="4" fill="#20b0ff"/><ellipse cx="0.3" cy="397" rx="2.8" ry="4" fill="#20b0ff"/></g></g></g>
<g fill="#000"><rect x="654.0" y="1186.0" width="8.8" height="8.8"/><rect x="662.8" y="1186.0" width="8.8" height="8.8"/><rect x="671.6" y="1194.8" width="8.8" height="8.8"/><rect x="680.4" y="1194.8" width="8.8" height="8.8"/><rect x="618.8" y="1203.5" width="8.8" height="8.8"/><rect x="610.0" y="1212.2" width="8.8" height="8.8"/><rect x="618.8" y="1212.2" width="8.8" height="8.8"/><rect x="680.4" y="1212.2" width="8.8" height="8.8"/><rect x="618.8" y="1221.0" width="8.8" height="8.8"/><rect x="645.2" y="1221.0" width="8.8" height="8.8"/><rect x="654.0" y="1221.0" width="8.8" height="8.8"/><rect x="680.4" y="1229.8" width="8.8" height="8.8"/><rect x="618.8" y="1247.2" width="8.8" height="8.8"/><rect x="636.4" y="1247.2" width="8.8" height="8.8"/><rect x="680.4" y="1247.2" width="8.8" height="8.8"/><rect x="689.2" y="1256.0" width="8.8" height="8.8"/><rect x="610.0" y="1264.8" width="8.8" height="8.8"/><rect x="654.0" y="1264.8" width="8.8" height="8.8"/><rect x="662.8" y="1264.8" width="8.8" height="8.8"/><rect x="680.4" y="1264.8" width="8.8" height="8.8"/><path d="M610.00 1180.80V1278.70M604.80 1186.00H703.20M618.80 1180.80V1278.70M604.80 1194.75H703.20M627.60 1180.80V1278.70M604.80 1203.50H703.20M636.40 1180.80V1278.70M604.80 1212.25H703.20M645.20 1180.80V1278.70M604.80 1221.00H703.20M654.00 1180.80V1278.70M604.80 1229.75H703.20M662.80 1180.80V1278.70M604.80 1238.50H703.20M671.60 1180.80V1278.70M604.80 1247.25H703.20M680.40 1180.80V1278.70M604.80 1256.00H703.20M689.20 1180.80V1278.70M604.80 1264.75H703.20M698.00 1180.80V1278.70M604.80 1273.50H703.20" stroke="#000" stroke-width="1.8" fill="none"/></g>
<rect x="519.1" y="767.2" width="492.29999999999995" height="735.5999999999999" fill="none" stroke="#000" stroke-width="2"/>
<text x="774.5" y="810.5" class="ti">S. uniplumis</text><text x="975.0" y="805.5" class="tg">d)</text>
<g transform="translate(519 762.6)"><path d="M293.8 469.2H303.8M298.8 464.2V474.2" stroke="#000" stroke-width="1.5" fill="none"/><rect x="296.2" y="507.3" width="6.6" height="6.8" fill="#000"/><text x="339.6" y="476.8" class="t">Observatory</text><text x="339.6" y="517.5" class="t">Permanent Plot</text><text transform="translate(268.3 559.3) scale(1.1 1)" class="cv">Cover</text><rect x="268.3" y="575.1" width="61.2" height="113" fill="url(#ramp)"/><text x="339.6" y="598.7" class="t">High : 0.41</text><text x="339.6" y="680.0" class="t">Low : 0.27</text></g>
<path d="M546.0 1469.8V1456.3H720.6V1469.8M589.65 1456.3V1466.3M633.30 1456.3V1466.3M676.95 1456.3V1466.3" stroke="#000" stroke-width="1.6" fill="none"/><text x="546.0" y="1497.5" class="t" text-anchor="middle">0</text><text x="635.3" y="1497.5" class="t" text-anchor="middle">1,000</text><text x="693.6" y="1497.5" class="t">2,000 m</text>
</svg>
</body></html>
